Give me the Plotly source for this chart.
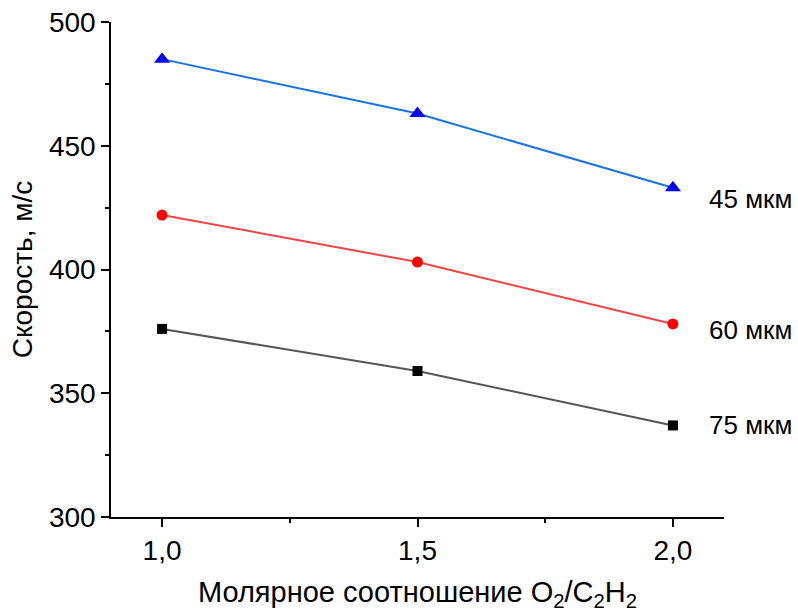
import plotly.graph_objects as go

# Molar ratio O2/C2H2 and particle velocity (m/s) for three powder fractions
ratio = [1.0, 1.5, 2.0]
v_45 = [485, 463, 433]
v_60 = [422, 403, 378]
v_75 = [376, 359, 337]

series = [
    ("45 мкм", v_45, "#1a73e6", "#0000ff", "triangle-up", 14, 11),
    ("60 мкм", v_60, "#f04444", "#ff0000", "circle", 11, 6),
    ("75 мкм", v_75, "#555555", "#000000", "square", 10, 0),
]

FONT = "Arial"

fig = go.Figure()
for name, vals, lcolor, mcolor, symbol, msize, yshift in series:
    fig.add_trace(go.Scatter(
        x=ratio, y=vals, mode="lines+markers", name=name,
        line=dict(color=lcolor, width=2),
        marker=dict(color=mcolor, symbol=symbol, size=msize, line=dict(width=0)),
        cliponaxis=False,
    ))
    fig.add_annotation(
        x=ratio[-1], y=vals[-1], text=name, showarrow=False,
        xanchor="left", yanchor="middle", xshift=34, yshift=-yshift,
        font=dict(family=FONT, size=26, color="#000000"),
    )

axis_common = dict(
    showline=True, linecolor="#000000", linewidth=1.5,
    ticks="outside", ticklen=8, tickwidth=1.5, tickcolor="#000000",
    showgrid=False, zeroline=False, automargin=False,
    tickfont=dict(family=FONT, size=28, color="#000000"),
)

fig.update_layout(
    width=798, height=614,
    margin=dict(l=111, r=74, t=22, b=97),
    paper_bgcolor="white", plot_bgcolor="white",
    showlegend=False,
    separators=",.",
    font=dict(family=FONT),
    xaxis=dict(
        range=[0.9, 2.1], tickmode="linear", tick0=0, dtick=0.5, tickformat=".1f",
        minor=dict(ticks="outside", ticklen=4, tickwidth=1.5, tickcolor="#000000",
                   tickmode="linear", tick0=0, dtick=0.25),
        title=dict(text="Молярное соотношение O<sub>2</sub>/C<sub>2</sub>H<sub>2</sub>",
                   font=dict(family=FONT, size=29, color="#000000"), standoff=16),
        **axis_common,
    ),
    yaxis=dict(
        range=[300, 500], tickmode="linear", tick0=0, dtick=50,
        minor=dict(ticks="outside", ticklen=4, tickwidth=1.5, tickcolor="#000000",
                   tickmode="linear", tick0=0, dtick=25),
        title=dict(text="Скорость, м/с",
                   font=dict(family=FONT, size=28, color="#000000"), standoff=8),
        **axis_common,
    ),
)

fig.write_html("out.html")
